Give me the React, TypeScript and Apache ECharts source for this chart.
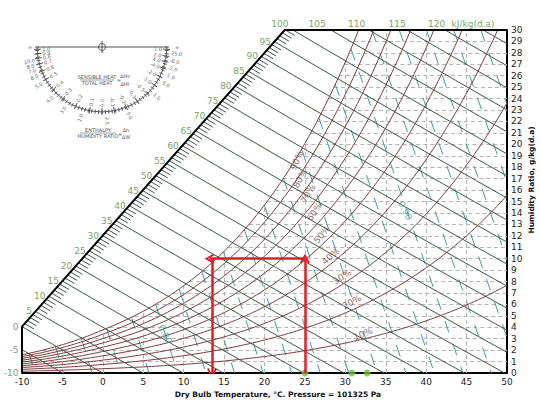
import React, { useEffect, useRef } from "react";
import * as echarts from "echarts";

// ---------- data ----------
const PRESSURE_KPA = 101.325;
const satTemps = [-10, -7.5, -5, -2.5, 0, 2.5, 5, 7.5, 10, 12.5, 15, 17.5, 20, 22.5, 25, 27.5, 30, 32.5, 35, 37.5, 40, 42.5, 45, 47.5, 50];
const satPressures = [0.2599, 0.3231, 0.4017, 0.4966, 0.6112, 0.7315, 0.8726, 1.0372, 1.2282, 1.4497, 1.7057, 2.0004, 2.3392, 2.7268, 3.1699, 3.6741, 4.246, 4.8938, 5.629, 6.454, 7.3849, 8.43, 9.595, 10.897, 12.352];
const rhLevels = [0.1, 0.2, 0.3, 0.4, 0.5, 0.6, 0.7, 0.8, 0.9, 1.0];
const rhLabelText = ["10%", "20%", "30%", "40%", "50%", "60%", "70%", "80%", "90%"];
const rhLabelT = [32.2, 30.8, 29.6, 28.2, 27.1, 26.2, 25.4, 24.4, 24.0];
const rhLabelW = [3.4, 6.2, 8.4, 10.2, 12.1, 14.1, 15.7, 17.0, 18.6];
const rhLabelAngle = [22, 28, 33, 42, 50, 55, 60, 62, 65];
const enthalpyLevels = [-10, -5, 0, 5, 10, 15, 20, 25, 30, 35, 40, 45, 50, 55, 60, 65, 70, 75, 80, 85, 90, 95, 100, 105, 110, 115, 120, 125];
const enthalpyScaleLabels = [-10, -5, 0, 5, 10, 15, 20, 25, 30, 35, 40, 45, 50, 55, 60, 65, 70, 75, 80, 85, 90, 95];
const topLabelText = ["100", "105", "110", "115", "120", "kJ/kg(d.a)"];
const topLabelT = [21.9, 26.5, 31.4, 36.4, 41.3, 45.8];
const volumeLevels = [0.75, 0.76, 0.77, 0.78, 0.79, 0.8, 0.81, 0.82, 0.83, 0.84, 0.85, 0.86, 0.87, 0.88, 0.89, 0.9, 0.91, 0.92, 0.93, 0.94, 0.95];
const volumeLabelText = ["0.80", "0.90"];
const volumeLabelT = [7.7, 37.4];
const volumeLabelW = [3.4, 14.2];
const boundaryCorners = [[-10, 0], [-10, 4.05], [22.5, 30], [50, 30]];
const arrowPaths = [
  [[25, 0], [25, 10]],
  [[25, 10], [13.2, 10]],
  [[13.5, 10], [13.5, 0]],
];
const markerTemps = [25, 30.8, 32.7];
const gridTemps = [-5, 0, 5, 10, 15, 20, 25, 30, 35, 40, 45];
const gridHumidities = [1, 2, 3, 4, 5, 6, 7, 8, 9, 10, 11, 12, 13, 14, 15, 16, 17, 18, 19, 20, 21, 22, 23, 24, 25, 26, 27, 28, 29];

// protractor scale labels: [text, angle in degrees]
const protInner: [string, number][] = [
  ["1.0", 178], ["0.9", 174], ["0.8", 170], ["0.7", 165], ["0.6", 158], ["0.5", 150], ["0.4", 139], ["0.3", 127],
  ["0.2", 114], ["0.1", 101], ["0.0", 90], ["-0.1", 79], ["-0.2", 68], ["-0.3", 57], ["-0.5", 46], ["-1.0", 36],
  ["-2.0", 27], ["-4.0", 19], ["4.0", 13], ["2.0", 8], ["1.0", 2],
];
const protOuter: [string, number][] = [
  ["10.0", 169], ["8.0", 165], ["7.0", 161], ["6.0", 156], ["5.0", 149], ["4.0", 135], ["3.0", 122], ["2.0", 107],
  ["2.5", 86], ["5.0", 68], ["1.0", 42], ["0.0", 30], ["-1.0", 23], ["-2.0", 17], ["-6.0", 11], ["-25.0", 5],
];

// ---------- psychrometric helpers ----------
function psAt(T: number): number {
  const n = satTemps.length;
  let i = 0;
  if (T >= satTemps[n - 1]) i = n - 2;
  else if (T > satTemps[0]) { while (satTemps[i + 1] < T) i++; }
  const t0 = satTemps[i], t1 = satTemps[i + 1];
  const l0 = Math.log(satPressures[i]), l1 = Math.log(satPressures[i + 1]);
  return Math.exp(l0 + (l1 - l0) * (T - t0) / (t1 - t0));
}
const wFromPs = (ps: number, phi: number) => (622 * phi * ps) / (PRESSURE_KPA - phi * ps);
const wSat = (T: number) => wFromPs(psAt(T), 1);
const hOf = (T: number, w: number) => 1.006 * T + w * (2.501 + 0.00186 * T);
const wOfH = (h: number, T: number) => (h - 1.006 * T) / (2.501 + 0.00186 * T);
const tOfH = (h: number, w: number) => (h - 2.501 * w) / (1.006 + 0.00186 * w);
const tOfV = (v: number, w: number) => (v * PRESSURE_KPA) / (0.287042 * (1 + 0.0016078 * w)) - 273.15;

function bisect(f: (x: number) => number, a: number, b: number): number {
  let fa = f(a);
  for (let k = 0; k < 60; k++) {
    const m = (a + b) / 2;
    const fm = f(m);
    if ((fm > 0) === (fa > 0)) { a = m; fa = fm; } else { b = m; }
  }
  return (a + b) / 2;
}
const tSatOfW = (w: number) => (w <= wSat(-10) ? -10 : bisect((T) => wSat(T) - w, -10, 50));

const cA = boundaryCorners[1];
const cB = boundaryCorners[2];
function enthalpyStart(h: number): number[] {
  const hA = hOf(cA[0], cA[1]);
  const hB = hOf(cB[0], cB[1]);
  if (h <= hA) return [cA[0], Math.max(0, wOfH(h, cA[0]))];
  if (h <= hB) {
    const s = bisect((s) => hOf(cA[0] + s * (cB[0] - cA[0]), cA[1] + s * (cB[1] - cA[1])) - h, 0, 1);
    return [cA[0] + s * (cB[0] - cA[0]), cA[1] + s * (cB[1] - cA[1])];
  }
  return [tOfH(h, 30), 30];
}
function enthalpyEnd(h: number): number[] {
  const tb = h / 1.006;
  if (tb <= 50) return [tb, 0];
  return [50, wOfH(h, 50)];
}

// open chevron arrow head (tip at the top)
const CHEVRON = "path://M5 0 L10 8 L8.4 9 L5 3.2 L1.6 9 L0 8 Z";

// ---------- build series ----------
function buildOption() {
  const font = "DejaVu Sans";
  const series: any[] = [];

  // dashed grid
  const vGrid = gridTemps.map((T) => ({ coords: [[T, 0], [T, Math.min(wSat(T), 30)]] }));
  const hGrid = gridHumidities.map((w) => ({ coords: [[tSatOfW(w), w], [50, w]] }));
  series.push({
    type: "lines", coordinateSystem: "cartesian2d", silent: true, z: 1,
    lineStyle: { color: "#b4b4b4", width: 1, type: [4, 3], opacity: 1 },
    data: vGrid.concat(hGrid),
  });

  // specific volume lines
  const vol = volumeLevels.map((v) => {
    let wi = bisect((w) => wSat(tOfV(v, w)) - w, 0, 120);
    if (wi > 30) wi = 30;
    let end = [tOfV(v, 0), 0];
    if (end[0] > 50) {
      const w50 = ((v * PRESSURE_KPA) / (0.287042 * 323.15) - 1) / 0.0016078;
      end = [50, w50];
    }
    return { coords: [[tOfV(v, wi), wi], end] };
  });
  series.push({
    type: "lines", coordinateSystem: "cartesian2d", silent: true, z: 2,
    lineStyle: { color: "#3f9c9a", width: 1, type: [12, 12], opacity: 1 },
    data: vol,
  });

  // enthalpy lines
  const enth = enthalpyLevels.map((h) => {
    const s = enthalpyStart(h);
    const e = enthalpyEnd(h);
    const pts: number[][] = [];
    for (let k = 0; k <= 8; k++) {
      const T = s[0] + ((e[0] - s[0]) * k) / 8;
      pts.push(k === 0 ? s : k === 8 ? e : [T, wOfH(h, T)]);
    }
    return { coords: pts };
  });
  series.push({
    type: "lines", coordinateSystem: "cartesian2d", polyline: true, silent: true, z: 3,
    lineStyle: { color: "#3d5946", width: 1, opacity: 1 },
    data: enth,
  });

  // scale ticks along the diagonal
  const ticks: any[] = [];
  for (let h = 1; h < 100; h++) {
    if (h % 5 === 0) continue;
    const s = enthalpyStart(h);
    const T2 = s[0] + 1.15;
    ticks.push({ coords: [s, [T2, wOfH(h, T2)]] });
  }
  series.push({
    type: "lines", coordinateSystem: "cartesian2d", silent: true, z: 3,
    lineStyle: { color: "#3d5946", width: 1, opacity: 1 },
    data: ticks,
  });

  // relative humidity curves
  const rhCurves = rhLevels.map((phi) => {
    const pts: number[][] = [];
    for (let T = -10; T <= 50.001; T += 0.5) {
      const w = wFromPs(psAt(T), phi);
      if (w > 30) {
        const prev = pts[pts.length - 1];
        if (prev) {
          const Tc = bisect((t) => wFromPs(psAt(t), phi) - 30, prev[0], T);
          pts.push([Tc, 30]);
        }
        break;
      }
      pts.push([T, w]);
    }
    return { coords: pts };
  });
  series.push({
    type: "lines", coordinateSystem: "cartesian2d", polyline: true, silent: true, z: 4,
    lineStyle: { color: "#7d3d3d", width: 1, opacity: 1 },
    data: rhCurves,
  });

  // boundary
  series.push({
    type: "line", data: boundaryCorners, symbol: "none", clip: false, silent: true, z: 6,
    lineStyle: { color: "#000", width: 2 },
  });

  // arrows
  series.push({
    type: "lines", coordinateSystem: "cartesian2d", silent: true, z: 8,
    symbol: ["none", CHEVRON], symbolSize: [11, 10],
    lineStyle: { color: "#e01b2a", width: 2.5, opacity: 1 },
    itemStyle: { color: "#e01b2a" },
    data: arrowPaths.map((p) => ({ coords: p })),
  });

  // green markers
  series.push({
    type: "scatter", z: 7, silent: true, symbolSize: 7,
    itemStyle: { color: "#6cc23a" },
    data: markerTemps.map((T) => [T, 0]),
  });

  const textSeries = (data: any[], label: any) => ({
    type: "scatter", z: 10, silent: true, symbolSize: 1,
    itemStyle: { color: "transparent" },
    label: { show: true, fontFamily: font, ...label },
    data,
  });

  // RH labels
  series.push(textSeries(
    rhLabelText.map((t, i) => ({ value: [rhLabelT[i], rhLabelW[i]], label: { formatter: t, rotate: rhLabelAngle[i] } })),
    { position: "inside", fontSize: 9, color: "#6e4545" },
  ));
  // enthalpy scale labels
  series.push(textSeries(
    enthalpyScaleLabels.map((h) => ({
      value: enthalpyStart(h), label: { formatter: String(h), color: h <= 0 ? "#557a78" : "#4e8a3a" },
    })),
    { position: "left", distance: 3, fontSize: 9 },
  ));
  // top labels
  series.push(textSeries(
    topLabelText.map((t, i) => ({ value: [topLabelT[i], 30], label: { formatter: t } })),
    { position: "top", distance: 1, fontSize: 9, color: "#4e8a3a" },
  ));
  // volume labels
  series.push(textSeries(
    volumeLabelText.map((t, i) => ({ value: [volumeLabelT[i], volumeLabelW[i]], label: { formatter: t } })),
    { position: "inside", fontSize: 9, color: "#3a9a98", rotate: -64 },
  ));

  // protractor graphics
  const cx = 102, cy = 47, r = 65;
  const g: any[] = [];
  const st = { stroke: "#555", lineWidth: 1 };
  g.push({ type: "line", shape: { x1: 38, y1: cy, x2: 167, y2: cy }, style: st });
  g.push({ type: "arc", shape: { cx, cy, r, startAngle: 0, endAngle: Math.PI, clockwise: true }, style: { ...st, fill: "none" } });
  g.push({ type: "circle", shape: { cx, cy, r: 3.5 }, style: { ...st, fill: "none" } });
  g.push({ type: "line", shape: { x1: cx, y1: cy - 6, x2: cx, y2: cy + 6 }, style: st });
  for (let a = 0; a <= 180; a += 3) {
    const th = (a * Math.PI) / 180;
    const c = Math.cos(th), s = Math.sin(th);
    g.push({ type: "line", shape: { x1: cx + (r - 2) * c, y1: cy + (r - 2) * s, x2: cx + (r + 2) * c, y2: cy + (r + 2) * s }, style: st });
  }
  const rotFor = (a: number) => ((a >= 90 ? 180 - a : -a) * Math.PI) / 180;
  protInner.forEach(([t, a]) => {
    const th = (a * Math.PI) / 180;
    g.push({ type: "line", shape: { x1: cx + (r - 4) * Math.cos(th), y1: cy + (r - 4) * Math.sin(th), x2: cx + (r + 3) * Math.cos(th), y2: cy + (r + 3) * Math.sin(th) }, style: st });
    g.push({ type: "text", x: cx + (r - 9) * Math.cos(th), y: cy + (r - 9) * Math.sin(th), rotation: rotFor(a),
      style: { text: t, font: `5px "${font}"`, fill: "#666", align: "center", verticalAlign: "middle" } });
  });
  protOuter.forEach(([t, a]) => {
    const th = (a * Math.PI) / 180;
    g.push({ type: "text", x: cx + (r + 9) * Math.cos(th), y: cy + (r + 9) * Math.sin(th), rotation: rotFor(a),
      style: { text: t, font: `5px "${font}"`, fill: "#666", align: "center", verticalAlign: "middle" } });
  });
  const small = (text: string, x: number, y: number, extra: any = {}) => ({
    type: "text", x, y, style: { text, font: `5px "${font}"`, fill: "#555", align: "center", verticalAlign: "middle", ...extra },
  });
  g.push(small("SENSIBLE HEAT", 97, 77));
  g.push({ type: "line", shape: { x1: 80, y1: 80, x2: 114, y2: 80 }, style: { stroke: "#666", lineWidth: 0.6 } });
  g.push(small("TOTAL HEAT", 97, 83));
  g.push(small("=", 119, 80));
  g.push(small("ΔHs", 125, 76));
  g.push(small("ΔHt", 125, 84));
  g.push(small("ENTHALPY", 98, 130));
  g.push({ type: "line", shape: { x1: 80, y1: 133, x2: 116, y2: 133 }, style: { stroke: "#666", lineWidth: 0.6 } });
  g.push(small("HUMIDITY RATIO", 98, 136));
  g.push(small("=", 120, 134));
  g.push(small("Δh", 126, 130));
  g.push(small("ΔW", 126, 137));
  g.push(small("∞", 30, cy));
  g.push(small("∞", 177, cy));

  // axis names
  g.push({ type: "text", x: 278, y: 394, style: { text: "Dry Bulb Temperature, °C. Pressure = 101325 Pa", font: `bold 7.5px "${font}"`, fill: "#111", align: "center", verticalAlign: "middle" } });
  g.push({ type: "text", x: 531, y: 180, rotation: Math.PI / 2, style: { text: "Humidity Ratio, g/kg(d.a)", font: `bold 7.5px "${font}"`, fill: "#111", align: "center", verticalAlign: "middle" } });

  return {
    animation: false,
    backgroundColor: "#ffffff",
    grid: { left: 22, right: 33, top: 30, bottom: 28 },
    xAxis: {
      type: "value", min: -10, max: 50, interval: 5,
      axisLine: { show: true, onZero: false, lineStyle: { color: "#000", width: 2 } },
      axisTick: { show: false },
      splitLine: { show: false },
      axisLabel: { fontFamily: font, fontSize: 9, color: "#222", margin: 4 },
    },
    yAxis: {
      type: "value", position: "right", min: 0, max: 30, interval: 1,
      axisLine: { show: true, onZero: false, lineStyle: { color: "#000", width: 2 } },
      axisTick: { show: false },
      splitLine: { show: false },
      axisLabel: { fontFamily: font, fontSize: 9, color: "#222", margin: 4 },
    },
    series,
    graphic: { elements: g },
  };
}

export default function App() {
  const ref = useRef<HTMLDivElement>(null);
  useEffect(() => {
    if (!ref.current) return;
    const chart = echarts.init(ref.current, undefined, { renderer: "svg" });
    chart.setOption(buildOption() as any);
    return () => chart.dispose();
  }, []);
  return <div ref={ref} style={{ position: "fixed", left: 0, top: 0, width: 540, height: 401, background: "#fff" }} />;
}
